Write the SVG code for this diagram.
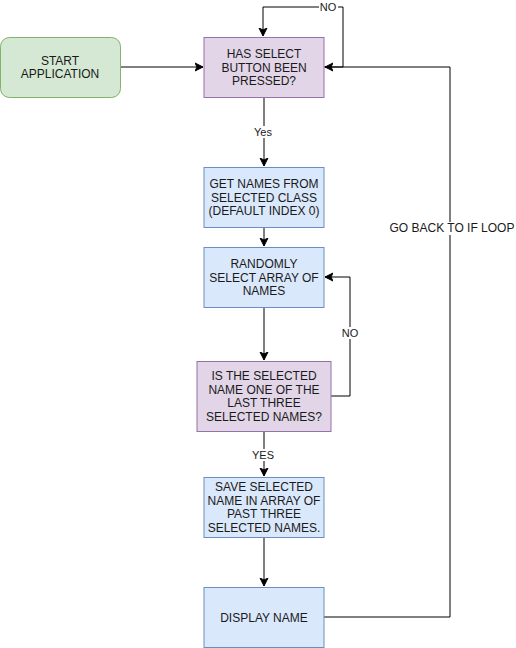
<svg xmlns="http://www.w3.org/2000/svg" width="516" height="648" viewBox="0 0 516 648">
<style>
  .t{font-family:"Liberation Sans",Arial,sans-serif;font-size:12px;fill:#1a1a1a;text-anchor:middle;dominant-baseline:central}
  .l{font-family:"Liberation Sans",Arial,sans-serif;font-size:11px;fill:#1a1a1a;text-anchor:middle;dominant-baseline:central}
  .green{fill:#d5e8d4;stroke:#82b366;stroke-width:1}
  .purple{fill:#e1d5e7;stroke:#9673a6;stroke-width:1}
  .blue{fill:#dae8fc;stroke:#6c8ebf;stroke-width:1}
  .e{fill:none;stroke:#000;stroke-width:1}
  .bg{fill:#fff}
</style>
<defs>
  <marker id="a" markerUnits="userSpaceOnUse" markerWidth="10" markerHeight="10" viewBox="0 0 10 10" refX="8" refY="5" orient="auto">
    <path d="M0,1 L8,5 L0,9 L2,5 z" fill="#000" stroke="#000" stroke-width="1"/>
  </marker>
</defs>
<rect width="516" height="648" fill="#fff"/>
<g id="connectors">
  <path class="e" d="M120,67 H203" marker-end="url(#a)"/>
  <path class="e" d="M324,67 H343 V7 H263 V36" marker-end="url(#a)"/>
  <path class="e" d="M264,97 V166" marker-end="url(#a)"/>
  <path class="e" d="M264,227 V246" marker-end="url(#a)"/>
  <path class="e" d="M264,307 V360" marker-end="url(#a)"/>
  <path class="e" d="M331,396 H350 V277 H325" marker-end="url(#a)"/>
  <path class="e" d="M264,431 V476" marker-end="url(#a)"/>
  <path class="e" d="M264,537 V586" marker-end="url(#a)"/>
  <path class="e" d="M324,617 H450 V67 H325" marker-end="url(#a)"/>
  <rect class="bg" x="319" y="1" width="19" height="12"/>
  <text class="l" x="328" y="7">NO</text>
  <rect class="bg" x="253" y="126" width="21" height="12"/>
  <text class="l" x="263" y="132">Yes</text>
  <rect class="bg" x="340" y="327" width="20" height="12"/>
  <text class="l" x="350" y="333">NO</text>
  <rect class="bg" x="251" y="449" width="25" height="12"/>
  <text class="l" x="263" y="455">YES</text>
  <rect class="bg" x="390" y="222" width="125" height="13"/>
  <text class="t" x="452" y="228">GO BACK TO IF LOOP</text>
</g>
<g id="start">
  <rect class="green" x="0.5" y="37.5" width="120" height="60" rx="9"/>
  <text class="t" x="60" y="61">START</text>
  <text class="t" x="60" y="74">APPLICATION</text>
</g>
<g id="has-select">
  <rect class="purple" x="204" y="37.5" width="120" height="60"/>
  <text class="t" x="264" y="54">HAS SELECT</text>
  <text class="t" x="264" y="67.5">BUTTON BEEN</text>
  <text class="t" x="264" y="81">PRESSED?</text>
</g>
<g id="get-names">
  <rect class="blue" x="204" y="167.5" width="120" height="60"/>
  <text class="t" x="264" y="184">GET NAMES FROM</text>
  <text class="t" x="264" y="197.5">SELECTED CLASS</text>
  <text class="t" x="264" y="211">(DEFAULT INDEX 0)</text>
</g>
<g id="randomly">
  <rect class="blue" x="204" y="247.5" width="120" height="60"/>
  <text class="t" x="264" y="264">RANDOMLY</text>
  <text class="t" x="264" y="277.5">SELECT ARRAY OF</text>
  <text class="t" x="264" y="291">NAMES</text>
</g>
<g id="is-selected">
  <rect class="purple" x="197" y="361.5" width="134" height="70"/>
  <text class="t" x="264" y="376">IS THE SELECTED</text>
  <text class="t" x="264" y="389.5">NAME ONE OF THE</text>
  <text class="t" x="264" y="403">LAST THREE</text>
  <text class="t" x="264" y="416.5">SELECTED NAMES?</text>
</g>
<g id="save">
  <rect class="blue" x="204" y="477.5" width="120" height="60"/>
  <text class="t" x="264" y="487">SAVE SELECTED</text>
  <text class="t" x="264" y="500.5">NAME IN ARRAY OF</text>
  <text class="t" x="264" y="514">PAST THREE</text>
  <text class="t" x="264" y="527.5">SELECTED NAMES.</text>
</g>
<g id="display">
  <rect class="blue" x="204" y="587.5" width="120" height="60"/>
  <text class="t" x="264" y="617.5">DISPLAY NAME</text>
</g>
</svg>
